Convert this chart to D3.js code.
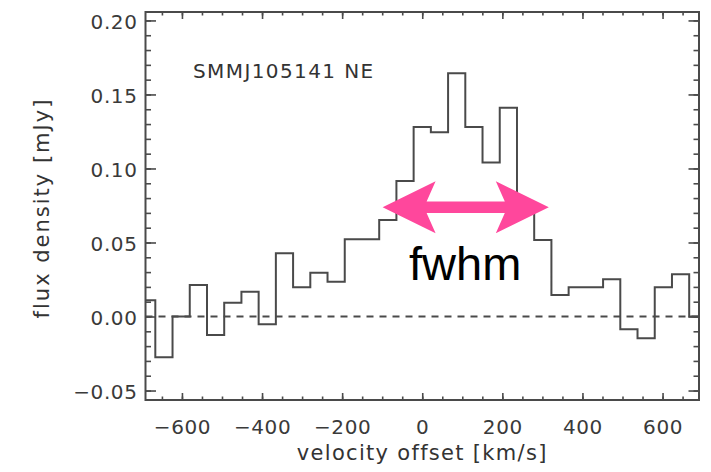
<!DOCTYPE html>
<html>
<head>
<meta charset="utf-8">
<script src="https://cdn.jsdelivr.net/npm/d3@7"></script>
<style>
  body { margin: 0; background: #fff; }
  svg { display: block; }
  .tick text { font-family: "DejaVu Sans", sans-serif; font-size: 20px; fill: #3a3a3a; letter-spacing: 0.6px; }
  .tick line { stroke: #4a4a4a; stroke-width: 1.6; }
</style>
</head>
<body>
<svg width="711" height="472"></svg>
<script>
// channel centres (km/s) and flux density (mJy)
var velocity = [-688, -645, -602, -559, -516, -473, -430, -387, -344, -301, -258,
    -215, -172, -129, -86, -43, 0, 43, 86, 129, 172, 215, 258, 301, 344, 387,
    430, 473, 516, 559, 602, 645, 688];
var flux = [0.011, -0.0276, 0.000, 0.0213, -0.0125, 0.0093, 0.0168, -0.0053, 0.0427,
    0.0197, 0.0296, 0.0235, 0.0522, 0.0522, 0.0652, 0.0916, 0.128, 0.1245, 0.1643,
    0.128, 0.104, 0.141, 0.075, 0.0517, 0.0145, 0.0197, 0.0197, 0.0251, -0.0086,
    -0.0147, 0.0197, 0.0285, 0.000];

var xTicks = [-600, -400, -200, 0, 200, 400, 600];
var yTicks = [-0.05, 0.00, 0.05, 0.10, 0.15, 0.20];
var titleText = "SMMJ105141 NE";
// fwhm annotation (km/s, mJy)
var fwhmFrom = -99, fwhmTo = 316, fwhmLevel = 0.0738;

var svg = d3.select("svg");
var plotLeft = 145.5, plotRight = 699, plotTop = 12, plotBottom = 400;

var x = d3.scaleLinear().domain([-691, 691]).range([plotLeft, plotRight]);
var y = d3.scaleLinear().domain([-0.0564, 0.2057]).range([plotBottom, plotTop]);

var xMinor = d3.range(-650, 651, 50);
var yMinor = d3.range(-5, 21, 1).map(function(d) { return d / 100; });

svg.append("defs").append("clipPath").attr("id", "plot")
    .append("rect")
    .attr("x", plotLeft).attr("y", plotTop)
    .attr("width", plotRight - plotLeft).attr("height", plotBottom - plotTop);

// minor ticks
svg.append("g").attr("transform", "translate(0," + plotBottom + ")")
    .call(d3.axisBottom(x).tickValues(xMinor).tickSize(-3.5).tickFormat(""));
svg.append("g").attr("transform", "translate(0," + plotTop + ")")
    .call(d3.axisTop(x).tickValues(xMinor).tickSize(-3.5).tickFormat(""));
svg.append("g").attr("transform", "translate(" + plotLeft + ",0)")
    .call(d3.axisLeft(y).tickValues(yMinor).tickSize(-5.5).tickFormat(""));
svg.append("g").attr("transform", "translate(" + plotRight + ",0)")
    .call(d3.axisRight(y).tickValues(yMinor).tickSize(-5.5).tickFormat(""));

// major ticks
svg.append("g").attr("transform", "translate(0," + plotBottom + ")")
    .call(d3.axisBottom(x).tickValues(xTicks).tickSize(-7).tickPadding(19.5).tickFormat(d3.format("d")));
svg.append("g").attr("transform", "translate(0," + plotTop + ")")
    .call(d3.axisTop(x).tickValues(xTicks).tickSize(-7).tickFormat(""));
svg.append("g").attr("transform", "translate(" + plotLeft + ",0)")
    .call(d3.axisLeft(y).tickValues(yTicks).tickSize(-10.5).tickPadding(8).tickFormat(d3.format(".2f")))
    .selectAll("text").attr("dy", "0.38em");
svg.append("g").attr("transform", "translate(" + plotRight + ",0)")
    .call(d3.axisRight(y).tickValues(yTicks).tickSize(-10.5).tickFormat(""));

svg.selectAll(".domain").remove();

// frame
svg.append("rect")
    .attr("x", plotLeft).attr("y", plotTop)
    .attr("width", plotRight - plotLeft).attr("height", plotBottom - plotTop)
    .attr("fill", "none")
    .attr("stroke", "#4a4a4a")
    .attr("stroke-width", 2);

// zero line
svg.append("line")
    .attr("x1", plotLeft).attr("x2", plotRight)
    .attr("y1", y(0)).attr("y2", y(0))
    .attr("stroke", "#4a4a4a")
    .attr("stroke-width", 2)
    .attr("stroke-dasharray", "7,6");

// histogram steps
var half = (velocity[1] - velocity[0]) / 2;
var steps = [];
velocity.forEach(function(v, i) {
    steps.push([v - half, flux[i]]);
    steps.push([v + half, flux[i]]);
});
var line = d3.line()
    .x(function(d) { return x(d[0]); })
    .y(function(d) { return y(d[1]); });
svg.append("path")
    .datum(steps)
    .attr("clip-path", "url(#plot)")
    .attr("d", line)
    .attr("fill", "none")
    .attr("stroke", "#4a4a4a")
    .attr("stroke-width", 2);

// labels
svg.append("text")
    .attr("x", 193).attr("y", 78)
    .attr("font-family", "DejaVu Sans, sans-serif")
    .attr("font-size", 20)
    .attr("letter-spacing", 1.4)
    .attr("fill", "#333")
    .text(titleText);

svg.append("text")
    .attr("x", x(0)).attr("y", 460)
    .attr("text-anchor", "middle")
    .attr("font-family", "DejaVu Sans, sans-serif")
    .attr("font-size", 21)
    .attr("letter-spacing", 1.3)
    .attr("fill", "#333")
    .text("velocity offset [km/s]");

svg.append("text")
    .attr("transform", "translate(49,208) rotate(-90)")
    .attr("text-anchor", "middle")
    .attr("font-family", "DejaVu Sans, sans-serif")
    .attr("font-size", 21)
    .attr("letter-spacing", 2)
    .attr("fill", "#333")
    .text("flux density [mJy]");

// fwhm arrow
var ax0 = x(fwhmFrom), ax1 = x(fwhmTo), ay = y(fwhmLevel);
var headL = 53, headW = 26, neck = 44, shaft = 5.8;
var arrow = [
    [ax0, ay], [ax0 + headL, ay - headW], [ax0 + neck, ay - shaft],
    [ax1 - neck, ay - shaft], [ax1 - headL, ay - headW], [ax1, ay],
    [ax1 - headL, ay + headW], [ax1 - neck, ay + shaft],
    [ax0 + neck, ay + shaft], [ax0 + headL, ay + headW]
];
svg.append("path")
    .attr("d", "M" + arrow.join("L") + "Z")
    .attr("fill", "#ff479c");

svg.append("text")
    .attr("x", 409).attr("y", 280)
    .attr("font-family", "Liberation Sans, Arial, sans-serif")
    .attr("font-size", 47)
    .attr("fill", "#000")
    .text("fwhm");
</script>
</body>
</html>
